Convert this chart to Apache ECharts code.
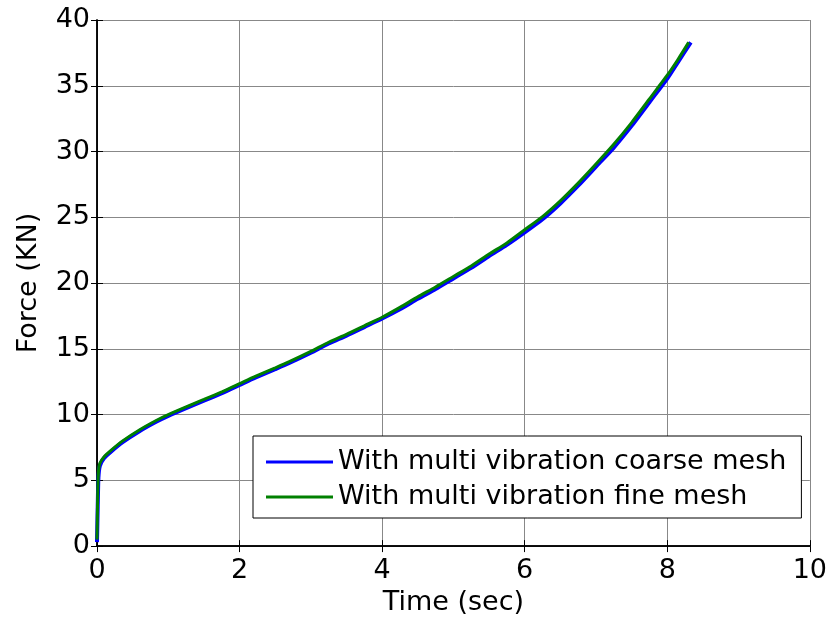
<!DOCTYPE html>
<html>
<head>
<meta charset="utf-8">
<script src="https://cdn.jsdelivr.net/npm/echarts@6/dist/echarts.min.js"></script>
<style>
html,body{margin:0;padding:0;background:#fff;}
#chart{width:830px;height:621px;}
</style>
</head>
<body>
<div id="chart"></div>
<script>
// Data
var coarseTime = [0, 0.01, 0.02, 0.04, 0.1, 0.2, 0.36, 0.6, 0.83, 1.0, 1.3, 1.5, 1.76, 2.0, 2.22, 2.5, 2.69, 3.0, 3.25, 3.5, 3.75, 4.0, 4.25, 4.5, 4.75, 5.0, 5.25, 5.5, 5.75, 6.0, 6.25, 6.5, 6.75, 7.0, 7.25, 7.5, 7.75, 8.0, 8.15, 8.33];
var coarseForce = [0.3, 3.0, 5.2, 6.1, 6.7, 7.2, 7.9, 8.75, 9.45, 9.9, 10.6, 11.05, 11.65, 12.25, 12.8, 13.45, 13.9, 14.7, 15.4, 16.0, 16.65, 17.3, 18.0, 18.8, 19.55, 20.35, 21.15, 22.05, 22.9, 23.85, 24.85, 26.05, 27.4, 28.85, 30.3, 31.95, 33.75, 35.55, 36.8, 38.3];
var fineTime = [0, 0.01, 0.02, 0.04, 0.1, 0.2, 0.36, 0.6, 0.83, 1.0, 1.3, 1.5, 1.76, 2.0, 2.22, 2.5, 2.69, 3.0, 3.25, 3.5, 3.75, 4.0, 4.25, 4.5, 4.75, 5.0, 5.25, 5.5, 5.75, 6.0, 6.25, 6.5, 6.75, 7.0, 7.25, 7.5, 7.75, 8.0, 8.15, 8.3];
var fineForce = [0.5, 4.0, 5.6, 6.3, 6.8, 7.3, 8.0, 8.85, 9.55, 10.0, 10.7, 11.15, 11.75, 12.35, 12.9, 13.55, 14.0, 14.8, 15.5, 16.1, 16.75, 17.4, 18.15, 18.95, 19.7, 20.5, 21.3, 22.2, 23.05, 24.05, 25.05, 26.25, 27.6, 29.05, 30.55, 32.2, 34.0, 35.8, 37.0, 38.3];
var seriesNames = ['With multi vibration coarse mesh', 'With multi vibration fine mesh'];
var xAxisTitle = 'Time (sec)';
var yAxisTitle = 'Force (KN)';

function pairs(xs, ys){ return xs.map(function(x,i){ return [x, ys[i]]; }); }

var FONT = 'DejaVu Sans';
var chart = echarts.init(document.getElementById('chart'), null, {renderer:'canvas'});
var lineBox = {show:true, lineStyle:{color:'#000', width:1.5}};
var tickIn = {show:true, inside:true, length:6, lineStyle:{color:'#000', width:1}};
chart.setOption({
  animation:false,
  backgroundColor:'#fff',
  grid:{left:97, right:17, top:20, bottom:72, containLabel:false},
  legend:{
    orient:'vertical', left:253, top:436,
    backgroundColor:'#fff', borderColor:'#000', borderWidth:1,
    padding:[11,15,6,13], itemGap:5,
    itemWidth:67, itemHeight:3, icon:'rect',
    textStyle:{fontFamily:FONT, fontSize:27, color:'#000', lineHeight:30},
    data:seriesNames
  },
  xAxis:[{
    type:'value', min:0, max:10, interval:2, position:'bottom',
    name:xAxisTitle, nameLocation:'middle', nameGap:41,
    nameTextStyle:{fontFamily:FONT, fontSize:27, color:'#000'},
    axisLine:lineBox, axisTick:tickIn,
    axisLabel:{fontFamily:FONT, fontSize:27, color:'#000', margin:11},
    splitLine:{show:true, lineStyle:{color:'#888', width:1}}
  },{
    type:'value', min:0, max:10, interval:2, position:'top',
    axisLine:lineBox, axisTick:tickIn, axisLabel:{show:false}, splitLine:{show:false}
  }],
  yAxis:[{
    type:'value', min:0, max:40, interval:5, position:'left',
    name:yAxisTitle, nameLocation:'middle', nameGap:55,
    nameTextStyle:{fontFamily:FONT, fontSize:27, color:'#000'},
    axisLine:lineBox, axisTick:tickIn,
    axisLabel:{fontFamily:FONT, fontSize:27, color:'#000', margin:7},
    splitLine:{show:true, lineStyle:{color:'#888', width:1}}
  },{
    type:'value', min:0, max:40, interval:5, position:'right',
    axisLine:lineBox, axisTick:tickIn, axisLabel:{show:false}, splitLine:{show:false}
  }],
  series:[{
    name:seriesNames[0], type:'line', showSymbol:false, z:2, smooth:0.2,
    color:'#0000ff', lineStyle:{color:'#0000ff', width:4},
    data:pairs(coarseTime, coarseForce)
  },{
    name:seriesNames[1], type:'line', showSymbol:false, z:3, smooth:0.2,
    color:'#008000', lineStyle:{color:'#008000', width:3},
    data:pairs(fineTime, fineForce)
  }]
});
</script>
</body>
</html>
